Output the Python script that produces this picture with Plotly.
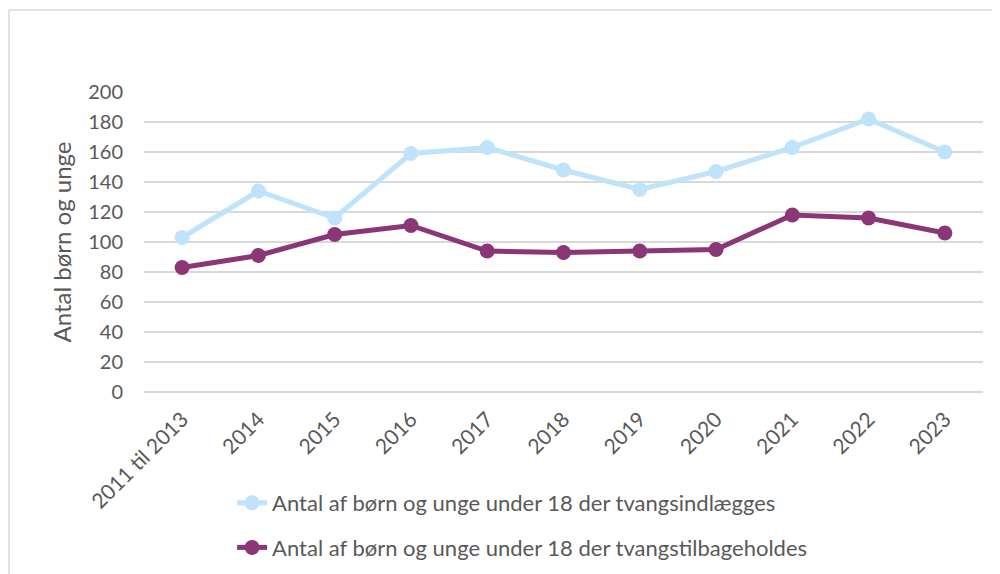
import plotly.graph_objects as go

categories = ["2011 til 2013", "2014", "2015", "2016", "2017", "2018", "2019", "2020", "2021", "2022", "2023"]
tvangsindlaegges = [103, 134, 116, 159, 163, 148, 135, 147, 163, 182, 160]
tvangstilbageholdes = [83, 91, 105, 111, 94, 93, 94, 95, 118, 116, 106]
name1 = "Antal af børn og unge under 18 der tvangsindlægges"
name2 = "Antal af børn og unge under 18 der tvangstilbageholdes"
y_ticks = [0, 20, 40, 60, 80, 100, 120, 140, 160, 180, 200]

fig = go.Figure()
fig.add_trace(go.Scatter(
    x=categories, y=tvangsindlaegges, name=name1, mode="lines+markers",
    line=dict(color="#BEE3FB", width=5), marker=dict(color="#BEE3FB", size=15),
    legendgroup="a",
))
fig.add_trace(go.Scatter(
    x=categories, y=tvangstilbageholdes, name=name2, mode="lines+markers",
    line=dict(color="#8B3777", width=5), marker=dict(color="#8B3777", size=15),
    legendgroup="b",
))

font_family = "Lato, Open Sans, sans-serif"
gray = "#595959"

# page body has an 8px margin, so the figure is drawn 8px in from the top-left
W, H = 992, 566
L, T, R, B = 136, 84, 17, 182
pw = W - L - R
ph = H - T - B

fig.update_layout(
    width=W, height=H,
    margin=dict(l=L, r=R, t=T, b=B, autoexpand=False),
    paper_bgcolor="white", plot_bgcolor="white",
    font=dict(family=font_family, color=gray, size=20),
    showlegend=True,
    legend=dict(
        x=0.105, y=-0.3, xanchor="left", yanchor="top",
        orientation="v", traceorder="grouped", tracegroupgap=13,
        font=dict(size=22, color=gray, family=font_family),
        bgcolor="rgba(0,0,0,0)",
    ),
    xaxis=dict(
        type="category", tickangle=-45, showgrid=False, showline=False,
        ticks="", tickfont=dict(size=21, color=gray), ticklabelstandoff=10,
        range=[-0.5, 10.5], fixedrange=True, automargin=False,
    ),
    yaxis=dict(
        range=[0, 200], tickvals=y_ticks, showgrid=True,
        gridcolor="#D9D9D9", gridwidth=1.5, zeroline=True,
        zerolinecolor="#D9D9D9", zerolinewidth=1.5, showline=False,
        ticks="", ticklabelstandoff=20, automargin=False,
        tickfont=dict(size=20, color=gray),
        title=dict(text="Antal børn og unge", font=dict(size=24, color=gray), standoff=9),
    ),
    shapes=[dict(
        type="rect", xref="paper", yref="paper",
        x0=(1 - L) / pw, x1=(W + 10 - L) / pw,
        y0=(T + ph - (H + 10)) / ph, y1=(T + ph - 2) / ph,
        line=dict(color="#D9D9D9", width=1.5), fillcolor="rgba(0,0,0,0)",
        layer="below",
    )],
)

fig.write_html("out.html")
